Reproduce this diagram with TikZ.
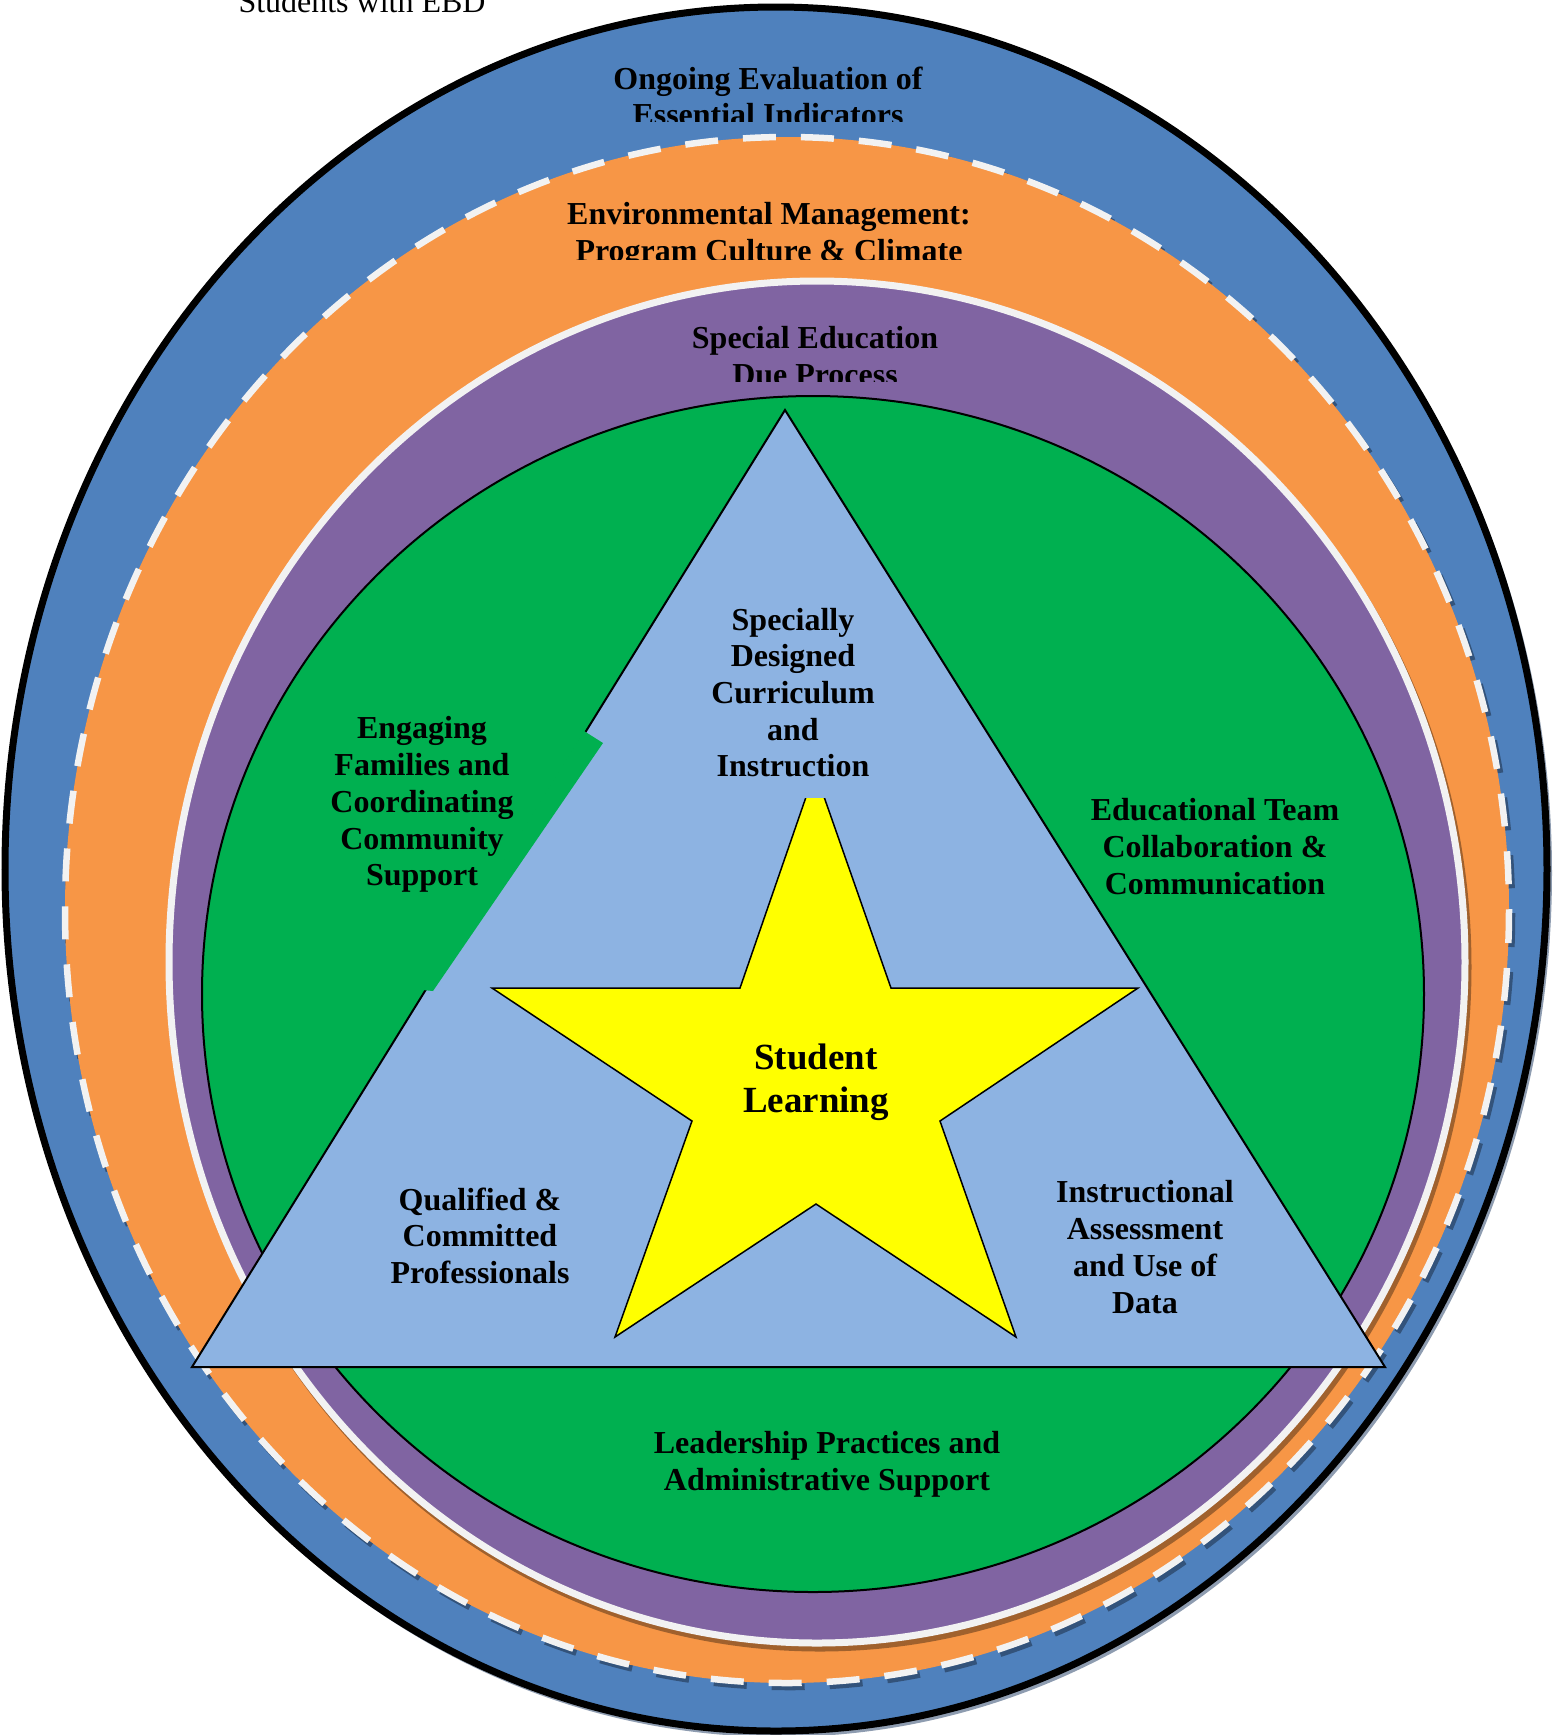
\documentclass[tikz,border=0pt]{standalone}
\usepackage{fontspec}
\setmainfont{Liberation Serif}
\definecolor{ringblue}{HTML}{4F81BD}
\definecolor{ringorange}{HTML}{F79646}
\definecolor{ringpurple}{HTML}{8064A2}
\definecolor{coregreen}{HTML}{00B050}
\definecolor{triblue}{HTML}{8DB3E2}
\definecolor{offwhite}{HTML}{F2F2F2}
\definecolor{shadowgrey}{HTML}{8E9CB0}
\definecolor{starfill}{HTML}{FFFF00}
\tikzset{
  ringout/.style={fill=ringblue,draw=black,line width=0.7mm},
  ringenv/.style={fill=ringorange,draw=offwhite,line width=0.65mm,
    dash pattern=on 3.3mm off 2.5mm},
  ringdp/.style={fill=ringpurple,draw=offwhite,line width=0.7mm},
  core/.style={fill=coregreen,draw=black,line width=0.2mm},
  outshadow/.style={fill=shadowgrey},
  envshadow/.style={draw=black,opacity=0.35,line width=0.65mm,
    dash pattern=on 3.3mm off 2.5mm},
  dpshadow/.style={draw=black,opacity=0.35,line width=0.7mm},
  tri/.style={fill=triblue,draw=black,line width=0.2mm,line join=miter},
  starshape/.style={fill=starfill,draw=black,line width=0.15mm,line join=miter},
  hdr/.style={font=\fontsize{9.1}{10.45}\selectfont,inner sep=0pt,anchor=base},
  lbl/.style={font=\bfseries\fontsize{9.1}{10.45}\selectfont,align=center,
    inner sep=0pt,anchor=north},
  biglbl/.style={lbl,font=\bfseries\fontsize{10.5}{12.3}\selectfont},
}
\begin{document}
\begin{tikzpicture}[x=0.1mm,y=-0.1mm]
  \useasboundingbox (0,0) rectangle (1554,1735);
  \node[hdr] (title) at (362,12) {Students with EBD};

  % outer ring
  \fill[outshadow] (779,873) ellipse [x radius=773, y radius=864];
  \draw[ringout] (776,869) ellipse [x radius=771, y radius=862];
  \begin{scope}
    \clip (0,0) rectangle (1554,121);
    \node[lbl] (eval) at (768,66) {Ongoing Evaluation of\\Essential Indicators};
  \end{scope}

  % environment ring
  \draw[envshadow] (790,914) ellipse [x radius=722, y radius=773];
  \draw[ringenv] (787,910) ellipse [x radius=722, y radius=773];
  \begin{scope}
    \clip (0,0) rectangle (1554,259);
    \node[lbl] (env) at (769,202) {Environmental Management:\\Program Culture \& Climate};
  \end{scope}

  % due process ring
  \draw[dpshadow] (820,967) ellipse [x radius=648, y radius=681];
  \draw[ringdp] (817,962) ellipse [x radius=648, y radius=681];
  \begin{scope}
    \clip (0,0) rectangle (1554,381);
    \node[lbl] (dueproc) at (815,326) {Special Education\\Due Process};
  \end{scope}

  % core
  \draw[core] (813,994) ellipse [x radius=611, y radius=598];

  \coordinate (apex) at (785,410);
  \coordinate (baseR) at (1385,1367);
  \coordinate (baseL) at (192,1367);
  \draw[tri] (apex) -- (baseR) -- (baseL) -- cycle;
  \fill[coregreen] (584,731) -- (603,743) -- (433,991) -- (423,990) -- cycle;

  \draw[starshape] (815,771) -- (891,988) -- (1138,988) -- (940,1121)
    -- (1016,1337) -- (816,1204) -- (615,1337) -- (692,1121)
    -- (492,988) -- (740,988) -- cycle;

  \node[lbl] (families) at (422,716)
    {Engaging\\Families and\\Coordinating\\Community\\Support};
  \node[lbl,fill=triblue,inner ysep=6pt] (curriculum) at (793,586)
    {Specially\\Designed\\Curriculum\\and\\Instruction};
  \node[lbl] (teamwork) at (1215,798)
    {Educational Team\\Collaboration \&\\Communication};
  \node[biglbl] (learning) at (816,1043) {Student\\Learning};
  \node[lbl] (staff) at (480,1187) {Qualified \&\\Committed\\Professionals};
  \node[lbl] (assessment) at (1145,1180)
    {Instructional\\Assessment\\and Use of\\Data};
  \node[lbl] (leadership) at (827,1431)
    {Leadership Practices and\\Administrative Support};
\end{tikzpicture}
\end{document}
